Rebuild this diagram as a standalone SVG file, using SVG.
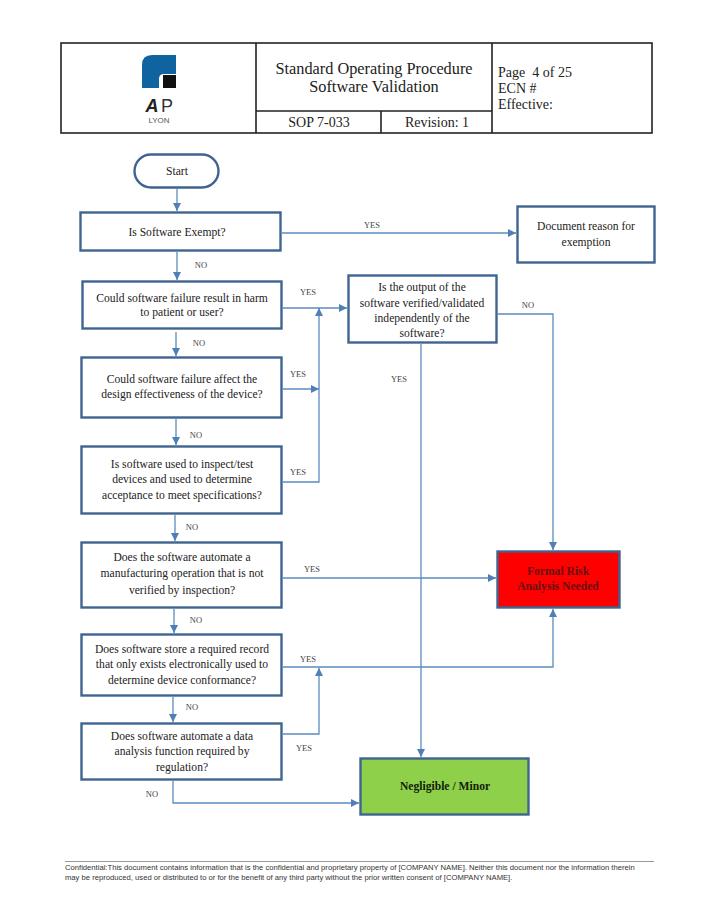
<svg xmlns="http://www.w3.org/2000/svg" width="714" height="924" viewBox="0 0 714 924">
<style>
text{font-family:"Liberation Serif",serif;fill:#222;text-anchor:middle}
.n{font-size:11.6px}
.h{font-size:16.3px}
.l{font-size:8.5px;fill:#444}
.b{fill:#fff;stroke:#3f6490;stroke-width:2.4}
.c{fill:none;stroke:#5b8cc0;stroke-width:1.3}
.t{fill:none;stroke:#222;stroke-width:1.6}
.f{font-family:"Liberation Sans",sans-serif;font-size:7.65px;text-anchor:start;fill:#333}
</style>
<defs>
<marker id="a" markerWidth="9" markerHeight="8" refX="8" refY="4" orient="auto" markerUnits="userSpaceOnUse"><path d="M0 0L8 4L0 8z" fill="#4f7fb5"/></marker>
</defs>
<rect width="714" height="924" fill="#fff"/>
<g id="header">
<rect class="t" x="61" y="43" width="591" height="90"/>
<path class="t" d="M256 43V133M492 43V133M256 111H492M381 111V133"/>
<path d="M142 88V65Q142 55 152 55H176V74H164Q159 74 159 79V88z" fill="#0f649f"/>
<rect x="163" y="75" width="13" height="13" fill="#111"/>
<text x="152" y="112" style="font-family:'Liberation Sans',sans-serif;font-size:18px;font-weight:bold;font-style:italic">A</text>
<text x="167" y="112" style="font-family:'Liberation Sans',sans-serif;font-size:18px;fill:#333">P</text>
<text x="159" y="123" style="font-family:'Liberation Sans',sans-serif;font-size:8px;fill:#555">LYON</text>
<text class="h" x="374" y="74">Standard Operating Procedure</text>
<text class="h" x="374" y="92">Software Validation</text>
<text x="319" y="127" style="font-size:14px">SOP 7-033</text>
<text x="437" y="127" style="font-size:14px">Revision: 1</text>
<text x="498" y="77" style="font-size:14px;text-anchor:start;white-space:pre">Page  4 of 25</text>
<text x="498" y="93" style="font-size:14px;text-anchor:start">ECN #</text>
<text x="498" y="109" style="font-size:14px;text-anchor:start">Effective:</text>
</g>
<g id="connectors">
<path class="c" marker-end="url(#a)" d="M177 189V211"/>
<path class="c" marker-end="url(#a)" d="M177 252V280"/>
<path class="c" marker-end="url(#a)" d="M176 332V356"/>
<path class="c" marker-end="url(#a)" d="M176 419V445"/>
<path class="c" marker-end="url(#a)" d="M175 515V541"/>
<path class="c" marker-end="url(#a)" d="M174 609V633"/>
<path class="c" marker-end="url(#a)" d="M173 697V722"/>
<path class="c" marker-end="url(#a)" d="M282 233H516"/>
<path class="c" marker-end="url(#a)" d="M283 308H347"/>
<path class="c" marker-end="url(#a)" d="M283 389H319"/>
<path class="c" marker-end="url(#a)" d="M283 482H319V308"/>
<path class="c" marker-end="url(#a)" d="M498 314H553V550"/>
<path class="c" marker-end="url(#a)" d="M421 344V757"/>
<path class="c" marker-end="url(#a)" d="M283 578H496"/>
<path class="c" marker-end="url(#a)" d="M283 667H553V609"/>
<path class="c" marker-end="url(#a)" d="M283 734H319V668"/>
<path class="c" marker-end="url(#a)" d="M173 781V803H359"/>
</g>
<g id="labels">
<text class="l" x="372" y="228">YES</text>
<text class="l" x="201" y="268">NO</text>
<text class="l" x="308" y="295">YES</text>
<text class="l" x="199" y="346">NO</text>
<text class="l" x="298" y="377">YES</text>
<text class="l" x="399" y="382">YES</text>
<text class="l" x="528" y="308">NO</text>
<text class="l" x="196" y="438">NO</text>
<text class="l" x="298" y="475">YES</text>
<text class="l" x="192" y="530">NO</text>
<text class="l" x="312" y="572">YES</text>
<text class="l" x="196" y="623">NO</text>
<text class="l" x="308" y="662">YES</text>
<text class="l" x="192" y="710">NO</text>
<text class="l" x="304" y="751">YES</text>
<text class="l" x="152" y="797">NO</text>
</g>
<g id="start"><rect class="b" x="134.500" y="154.500" width="84" height="33" rx="16.500"/><text class="n" x="177" y="175">Start</text></g>
<g id="exempt"><rect class="b" x="80.500" y="212.500" width="200" height="38"/><text class="n" x="177" y="236">Is Software Exempt?</text></g>
<g id="reason"><rect class="b" x="517.500" y="206.500" width="137" height="56"/><text class="n" x="586" y="230">Document reason for</text><text class="n" x="586" y="246">exemption</text></g>
<g id="harm"><rect class="b" x="82.500" y="281.500" width="199" height="47"/><text class="n" x="182" y="302">Could software failure result in harm</text><text class="n" x="182" y="316">to patient or user?</text></g>
<g id="verified"><rect class="b" x="348.500" y="275.500" width="148" height="67"/><text class="n" x="422" y="291">Is the output of the</text><text class="n" x="422" y="307">software verified/validated</text><text class="n" x="422" y="322">independently of the</text><text class="n" x="422" y="337">software?</text></g>
<g id="design"><rect class="b" x="81.500" y="357.500" width="200" height="60"/><text class="n" x="182" y="383">Could software failure affect the</text><text class="n" x="182" y="398">design effectiveness of the device?</text></g>
<g id="inspect"><rect class="b" x="81.500" y="446.500" width="200" height="67"/><text class="n" x="182" y="468">Is software used to inspect/test</text><text class="n" x="182" y="483">devices and used to determine</text><text class="n" x="182" y="499">acceptance to meet specifications?</text></g>
<g id="manufacturing"><rect class="b" x="81.500" y="542.500" width="200" height="65"/><text class="n" x="182" y="561">Does the software automate a</text><text class="n" x="182" y="577">manufacturing operation that is not</text><text class="n" x="182" y="594">verified by inspection?</text></g>
<g id="record"><rect class="b" x="81.500" y="634.500" width="200" height="61"/><text class="n" x="182" y="653">Does software store a required record</text><text class="n" x="182" y="668">that only exists electronically used to</text><text class="n" x="182" y="684">determine device conformance?</text></g>
<g id="analysis"><rect class="b" x="81.500" y="723.500" width="200" height="56"/><text class="n" x="182" y="740">Does software automate a data</text><text class="n" x="182" y="755">analysis function required by</text><text class="n" x="182" y="771">regulation?</text></g>
<g id="formal"><rect class="b" x="497.500" y="551.500" width="122" height="56" style="fill:#fe0000"/><text class="n" x="558" y="575" style="font-weight:bold;fill:#6a0f12">Formal Risk</text><text class="n" x="558" y="590" style="font-weight:bold;fill:#6a0f12">Analysis Needed</text></g>
<g id="negligible"><rect class="b" x="360.500" y="758.500" width="168" height="56" style="fill:#8fd04b"/><text class="n" x="445" y="790" style="font-weight:bold;fill:#112206">Negligible / Minor</text></g>
<g id="footer">
<path d="M65 861.500H654" stroke="#999" stroke-width="1"/>
<text class="f" x="65" y="870">Confidential:This document contains information that is the confidential and proprietary property of [COMPANY NAME]. Neither this document nor the information therein</text>
<text class="f" x="65" y="880">may be reproduced, used or distributed to or for the benefit of any third party without the prior written consent of [COMPANY NAME].</text>
</g>
</svg>
